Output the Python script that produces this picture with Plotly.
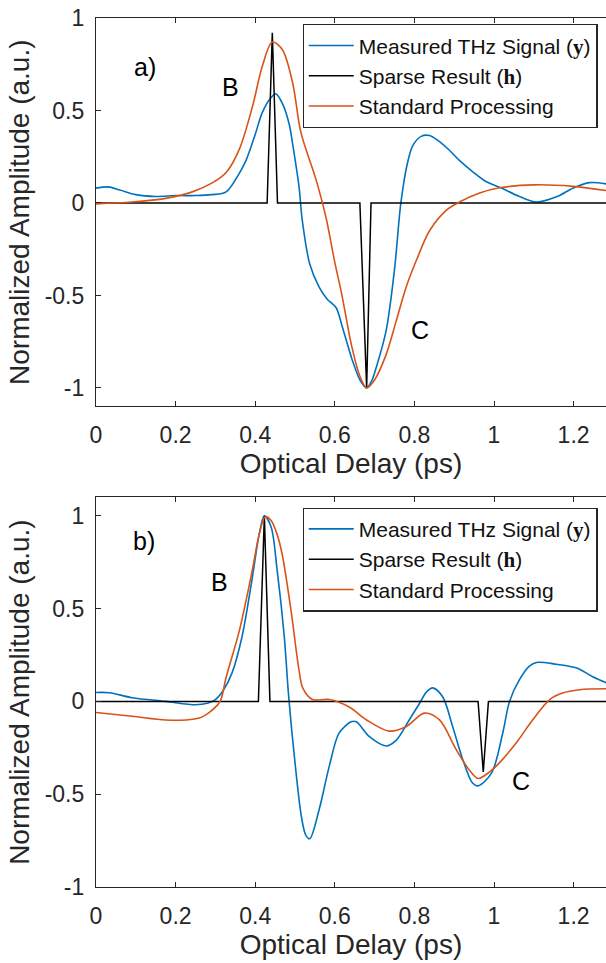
import plotly.graph_objects as go

# ---- panel a) ----
a_meas_x = [0, 0.03, 0.06, 0.1, 0.15, 0.2, 0.25, 0.29, 0.327, 0.36, 0.377, 0.4, 0.418, 0.44, 0.452,
            0.47, 0.486, 0.494, 0.51, 0.518, 0.537, 0.561, 0.581, 0.603, 0.619, 0.644, 0.664, 0.68,
            0.693, 0.704, 0.729, 0.75, 0.766, 0.783, 0.796, 0.817, 0.838, 0.858, 0.888, 0.913, 0.946,
            0.981, 1.014, 1.064, 1.107, 1.157, 1.198, 1.24, 1.282]
a_meas_y = [0.08, 0.087, 0.07, 0.045, 0.035, 0.04, 0.04, 0.045, 0.06, 0.16, 0.23, 0.37, 0.49, 0.57, 0.59,
            0.53, 0.42, 0.32, 0.09, -0.09, -0.33, -0.456, -0.52, -0.565, -0.67, -0.85, -0.96, -1.0,
            -0.96, -0.89, -0.69, -0.36, 0.0, 0.22, 0.31, 0.36, 0.365, 0.34, 0.285, 0.23, 0.17,
            0.115, 0.085, 0.035, 0.005, 0.033, 0.08, 0.11, 0.103]

a_std_x = [0, 0.09, 0.175, 0.242, 0.293, 0.327, 0.36, 0.393, 0.418, 0.443, 0.468, 0.494, 0.515,
           0.553, 0.578, 0.599, 0.619, 0.641, 0.662, 0.68, 0.699, 0.729, 0.754, 0.78, 0.805, 0.838,
           0.88, 0.913, 0.964, 1.014, 1.1, 1.198, 1.282]
a_std_y = [-0.005, 0.005, 0.025, 0.06, 0.11, 0.165, 0.29, 0.52, 0.74, 0.87, 0.83, 0.65, 0.38,
           0.125, -0.08, -0.31, -0.51, -0.76, -0.93, -1.0, -0.96, -0.82, -0.64, -0.45, -0.31, -0.15,
           -0.04, 0.005, 0.054, 0.082, 0.098, 0.09, 0.067]

a_sparse_x = [0, 0.430, 0.443, 0.456, 0.663, 0.68, 0.691, 1.282]
a_sparse_y = [0, 0, 0.92, 0, 0, -1.0, 0, 0]

# ---- panel b) ----
b_meas_x = [0, 0.033, 0.091, 0.175, 0.25, 0.28, 0.3, 0.32, 0.342, 0.367, 0.393, 0.41, 0.423, 0.44,
            0.455, 0.473, 0.484, 0.5, 0.516, 0.527, 0.537, 0.561, 0.586, 0.611, 0.641, 0.654, 0.687,
            0.729, 0.754, 0.787, 0.813, 0.83, 0.846, 0.871, 0.896, 0.921, 0.946, 0.96, 0.994,
            1.022, 1.039, 1.064, 1.089, 1.107, 1.157, 1.208, 1.248, 1.282]
b_meas_y = [0.048, 0.047, 0.02, 0.0, -0.018, -0.01, 0.01, 0.06, 0.155, 0.35, 0.67, 0.9, 1.0, 0.94,
            0.71, 0.35, 0.03, -0.33, -0.62, -0.72, -0.74, -0.58, -0.35, -0.17, -0.11, -0.11, -0.19,
            -0.24, -0.21, -0.1, -0.01, 0.05, 0.073, 0.025, -0.135, -0.31, -0.44, -0.455, -0.385,
            -0.17, 0.0, 0.117, 0.19, 0.21, 0.2, 0.18, 0.133, 0.1]

b_std_x = [0, 0.091, 0.175, 0.226, 0.259, 0.284, 0.305, 0.314, 0.327, 0.36, 0.393, 0.41, 0.425,
           0.44, 0.455, 0.468, 0.49, 0.51, 0.52, 0.544, 0.586, 0.636, 0.68, 0.737, 0.78, 0.825, 0.863,
           0.905, 0.938, 0.96, 0.989, 1.014, 1.057, 1.097, 1.14, 1.172, 1.215, 1.282]
b_std_y = [-0.06, -0.08, -0.1, -0.1, -0.09, -0.06, -0.02, 0.01, 0.13, 0.38, 0.71, 0.9, 0.995,
           0.975, 0.9, 0.79, 0.49, 0.17, 0.07, 0.01, 0.01, -0.03, -0.1, -0.16, -0.135, -0.063, -0.1,
           -0.26, -0.37, -0.415, -0.38, -0.33, -0.22, -0.1, 0.01, 0.045, 0.063, 0.068]

b_sparse_x = [0, 0.408, 0.423, 0.437, 0.96, 0.973, 0.986, 1.282]
b_sparse_y = [0, 0, 1.0, 0, 0, -0.38, 0, 0]

# ---- axis labelling ----
x_ticks = [0, 0.2, 0.4, 0.6, 0.8, 1.0, 1.2]
x_ticktext = ["0", "0.2", "0.4", "0.6", "0.8", "1", "1.2"]
y_ticks = [-1, -0.5, 0, 0.5, 1]
y_ticktext = ["-1", "-0.5", "0", "0.5", "1"]

names = ["Measured THz Signal (<span style='font-family:Liberation Serif'><b>y</b></span>)",
         "Sparse Result (<span style='font-family:Liberation Serif'><b>h</b></span>)",
         "Standard Processing"]

BLUE = "#0072BD"
ORANGE = "#D95319"
BLACK = "#000000"
AXC = "#262626"
FONT = "Liberation Sans"

fig = go.Figure()

panels = [
    ("x", "y", "legend", a_meas_x, a_meas_y, a_sparse_x, a_sparse_y, a_std_x, a_std_y),
    ("x2", "y2", "legend2", b_meas_x, b_meas_y, b_sparse_x, b_sparse_y, b_std_x, b_std_y),
]
for xa, ya, lg, mx, my, sx, sy, tx, ty in panels:
    fig.add_trace(go.Scatter(x=mx, y=my, mode="lines", name=names[0], legend=lg,
                             line=dict(color=BLUE, width=1.6, shape="spline", smoothing=0.9),
                             xaxis=xa, yaxis=ya))
    fig.add_trace(go.Scatter(x=sx, y=sy, mode="lines", name=names[1], legend=lg,
                             line=dict(color=BLACK, width=1.5),
                             xaxis=xa, yaxis=ya))
    fig.add_trace(go.Scatter(x=tx, y=ty, mode="lines", name=names[2], legend=lg,
                             line=dict(color=ORANGE, width=1.6, shape="spline", smoothing=0.9),
                             xaxis=xa, yaxis=ya))

xaxis_common = dict(range=[0, 1.2814], tickvals=x_ticks, ticktext=x_ticktext,
                    ticks="inside", ticklen=5, tickwidth=1, tickcolor=AXC,
                    showline=True, linecolor=AXC, linewidth=1.2, mirror="ticks",
                    showgrid=False, zeroline=False,
                    tickfont=dict(family=FONT, size=23, color=AXC),
                    ticklabelstandoff=8,
                    title=dict(text="Optical Delay (ps)", standoff=6,
                               font=dict(family=FONT, size=28, color=AXC)))
yaxis_common = dict(tickvals=y_ticks, ticktext=y_ticktext,
                    ticks="inside", ticklen=5, tickwidth=1, tickcolor=AXC,
                    showline=True, linecolor=AXC, linewidth=1.2,
                    showgrid=False, zeroline=False,
                    tickfont=dict(family=FONT, size=23, color=AXC),
                    ticklabelstandoff=6,
                    title=dict(text="Normalized Amplitude (a.u.)", standoff=6,
                               font=dict(family=FONT, size=28, color=AXC)))

legend_common = dict(xanchor="left", yanchor="top", bgcolor="white",
                     bordercolor=AXC, borderwidth=1.2,
                     font=dict(family=FONT, size=21, color="#111111"),
                     itemwidth=45, tracegroupgap=0)

fig.update_layout(
    width=606, height=963,
    margin=dict(l=96, r=0, t=18, b=76),
    paper_bgcolor="white", plot_bgcolor="white",
    xaxis=dict(domain=[0, 1], anchor="y", **xaxis_common),
    yaxis=dict(domain=[0.553, 1], anchor="x", range=[-1.1, 1.0], **yaxis_common),
    xaxis2=dict(domain=[0, 1], anchor="y2", **xaxis_common),
    yaxis2=dict(domain=[0, 0.4485], anchor="x2", range=[-1.0, 1.1], **yaxis_common),
    legend=dict(x=0.405, y=0.993, **legend_common),
    legend2=dict(x=0.405, y=0.4367, **legend_common),
    showlegend=True,
)

# panel labels and peak markers
labels = [
    ("x", "y", 0.122, 0.733, "a)"),
    ("x", "y", 0.338, 0.625, "B"),
    ("x", "y", 0.813, -0.689, "C"),
    ("x2", "y2", 0.12, 0.865, "b)"),
    ("x2", "y2", 0.31, 0.644, "B"),
    ("x2", "y2", 1.067, -0.43, "C"),
]
for xr, yr, xv, yv, txt in labels:
    fig.add_annotation(x=xv, y=yv, xref=xr, yref=yr, text=txt, showarrow=False,
                       font=dict(family=FONT, size=25, color="black"))

fig.write_html("out.html")
